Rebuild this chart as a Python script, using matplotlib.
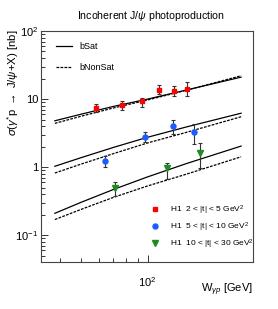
import matplotlib
matplotlib.use('Agg')
import matplotlib.pyplot as plt
import numpy as np

plt.rcParams['font.family'] = ['Liberation Sans', 'DejaVu Sans']
plt.rcParams['mathtext.fontset'] = 'custom'
plt.rcParams['mathtext.rm'] = 'Liberation Sans'
plt.rcParams['mathtext.it'] = 'Liberation Sans:italic'

# H1 data, 2 < |t| < 5 GeV^2
w_t1 = [58.5, 76.6, 94.3, 113, 131, 150]
s_t1 = [7.3, 8.2, 9.25, 13.5, 13.2, 14.2]
hi_t1 = [8.36, 9.44, 10.2, 16.1, 15.7, 17.9]
lo_t1 = [6.37, 6.96, 7.6, 11.7, 11.2, 11.2]

# 5 < |t| < 10 GeV^2
w_t2 = [64.4, 97.6, 130, 163]
s_t2 = [1.22, 2.74, 4.0, 3.3]
hi_t2 = [1.45, 3.3, 5.0, 4.29]
lo_t2 = [1.01, 2.36, 3.05, 2.16]

# 10 < |t| < 30 GeV^2
w_t3 = [71, 122, 172]
s_t3 = [0.50, 0.97, 1.64]
hi_t3 = [0.61, 1.17, 2.3]
lo_t3 = [0.375, 0.67, 0.96]

# model curves
w_model = [38, 50, 70, 100, 150, 265]
sat_t1 = [4.8, 6.0, 7.8, 10.0, 13.6, 21.0]
nonsat_t1 = [4.4, 5.6, 7.4, 9.7, 13.5, 22.0]
sat_t2 = [1.03, 1.38, 1.95, 2.75, 3.9, 6.2]
nonsat_t2 = [0.82, 1.11, 1.58, 2.27, 3.25, 5.5]
sat_t3 = [0.21, 0.305, 0.47, 0.72, 1.13, 2.04]
nonsat_t3 = [0.17, 0.24, 0.36, 0.53, 0.79, 1.42]

fig = plt.figure(figsize=(2.78, 3.09), dpi=100)
ax = fig.add_axes([0.1486, 0.151, 0.7614, 0.7487])
ax.set_xscale('log')
ax.set_yscale('log')

dash = (0, (2.2, 1.0))
for sat, nonsat in [(sat_t1, nonsat_t1), (sat_t2, nonsat_t2), (sat_t3, nonsat_t3)]:
    ax.plot(w_model, sat, color='black', lw=0.9)
    ax.plot(w_model, nonsat, color='black', lw=0.9, linestyle=dash)

sets = [
    (w_t1, s_t1, hi_t1, lo_t1, 's', '#ff0000', 3.4, r'H1  2 < |t| < 5 GeV$^2$'),
    (w_t2, s_t2, hi_t2, lo_t2, 'o', '#1a5cff', 3.6, r'H1  5 < |t| < 10 GeV$^2$'),
    (w_t3, s_t3, hi_t3, lo_t3, 'v', '#1e8c1e', 3.8, r'H1  10 < |t| < 30 GeV$^2$'),
]
handles = []
for w, s, hi, lo, mk, col, ms, lab in sets:
    s = np.array(s)
    yerr = [s - np.array(lo), np.array(hi) - s]
    ax.errorbar(w, s, yerr=yerr, fmt='none', ecolor='#333333', elinewidth=0.8,
                capsize=1.2, capthick=0.8, zorder=3)
    h = ax.plot(w, s, linestyle='none', marker=mk, color=col, markersize=ms,
                zorder=4, label=lab)[0]
    handles.append(h)

ax.set_xlim(33, 300)
ax.set_ylim(0.04, 100)

ax.set_xticks([100])
ax.set_xticklabels([r'$10^{2}$'])
ax.set_xticks([40, 50, 60, 70, 80, 90], minor=True)
ax.set_xticklabels([], minor=True)
ax.set_yticks([0.1, 1, 10, 100])
ax.set_yticklabels([r'$10^{-1}$', '1', '10', r'$10^{2}$'])
ax.tick_params(which='both', direction='in', top=False, right=False, labelsize=8,
               color='#333333', width=0.7)
ax.tick_params(which='major', length=5)
ax.tick_params(which='minor', length=3)
ax.tick_params(axis='x', pad=9)
ax.tick_params(axis='y', pad=2)
for sp in ax.spines.values():
    sp.set_linewidth(0.8)
    sp.set_color('#444444')

fig.text(0.543, 0.948, r'Incoherent J/$\psi$ photoproduction', ha='center',
         va='center', fontsize=7.6)
fig.text(0.047, 0.905, r'$\sigma$($\gamma^{*}$p $\rightarrow$ J/$\psi$+X) [nb]',
         rotation=90, ha='center', va='top', fontsize=8.2)
fig.text(0.91, 0.062, r'W$_{\gamma p}$ [GeV]', ha='right', va='center', fontsize=8)

# model legend
l1 = ax.plot([], [], color='black', lw=0.9, label='bSat')[0]
l2 = ax.plot([], [], color='black', lw=0.9, linestyle=dash, label='bNonSat')[0]
leg1 = ax.legend(handles=[l1, l2], loc='upper left', bbox_to_anchor=(0.05, 0.97),
                 frameon=False, fontsize=6.5, handlelength=1.7, labelspacing=1.3,
                 handletextpad=0.8, borderpad=0)
ax.add_artist(leg1)
ax.legend(handles=handles, loc='lower right', bbox_to_anchor=(1.03, 0.025),
          frameon=False, fontsize=6, handlelength=1.0, labelspacing=0.45,
          handletextpad=1.3, borderpad=0.2)

fig.savefig('out.png', dpi=100)
